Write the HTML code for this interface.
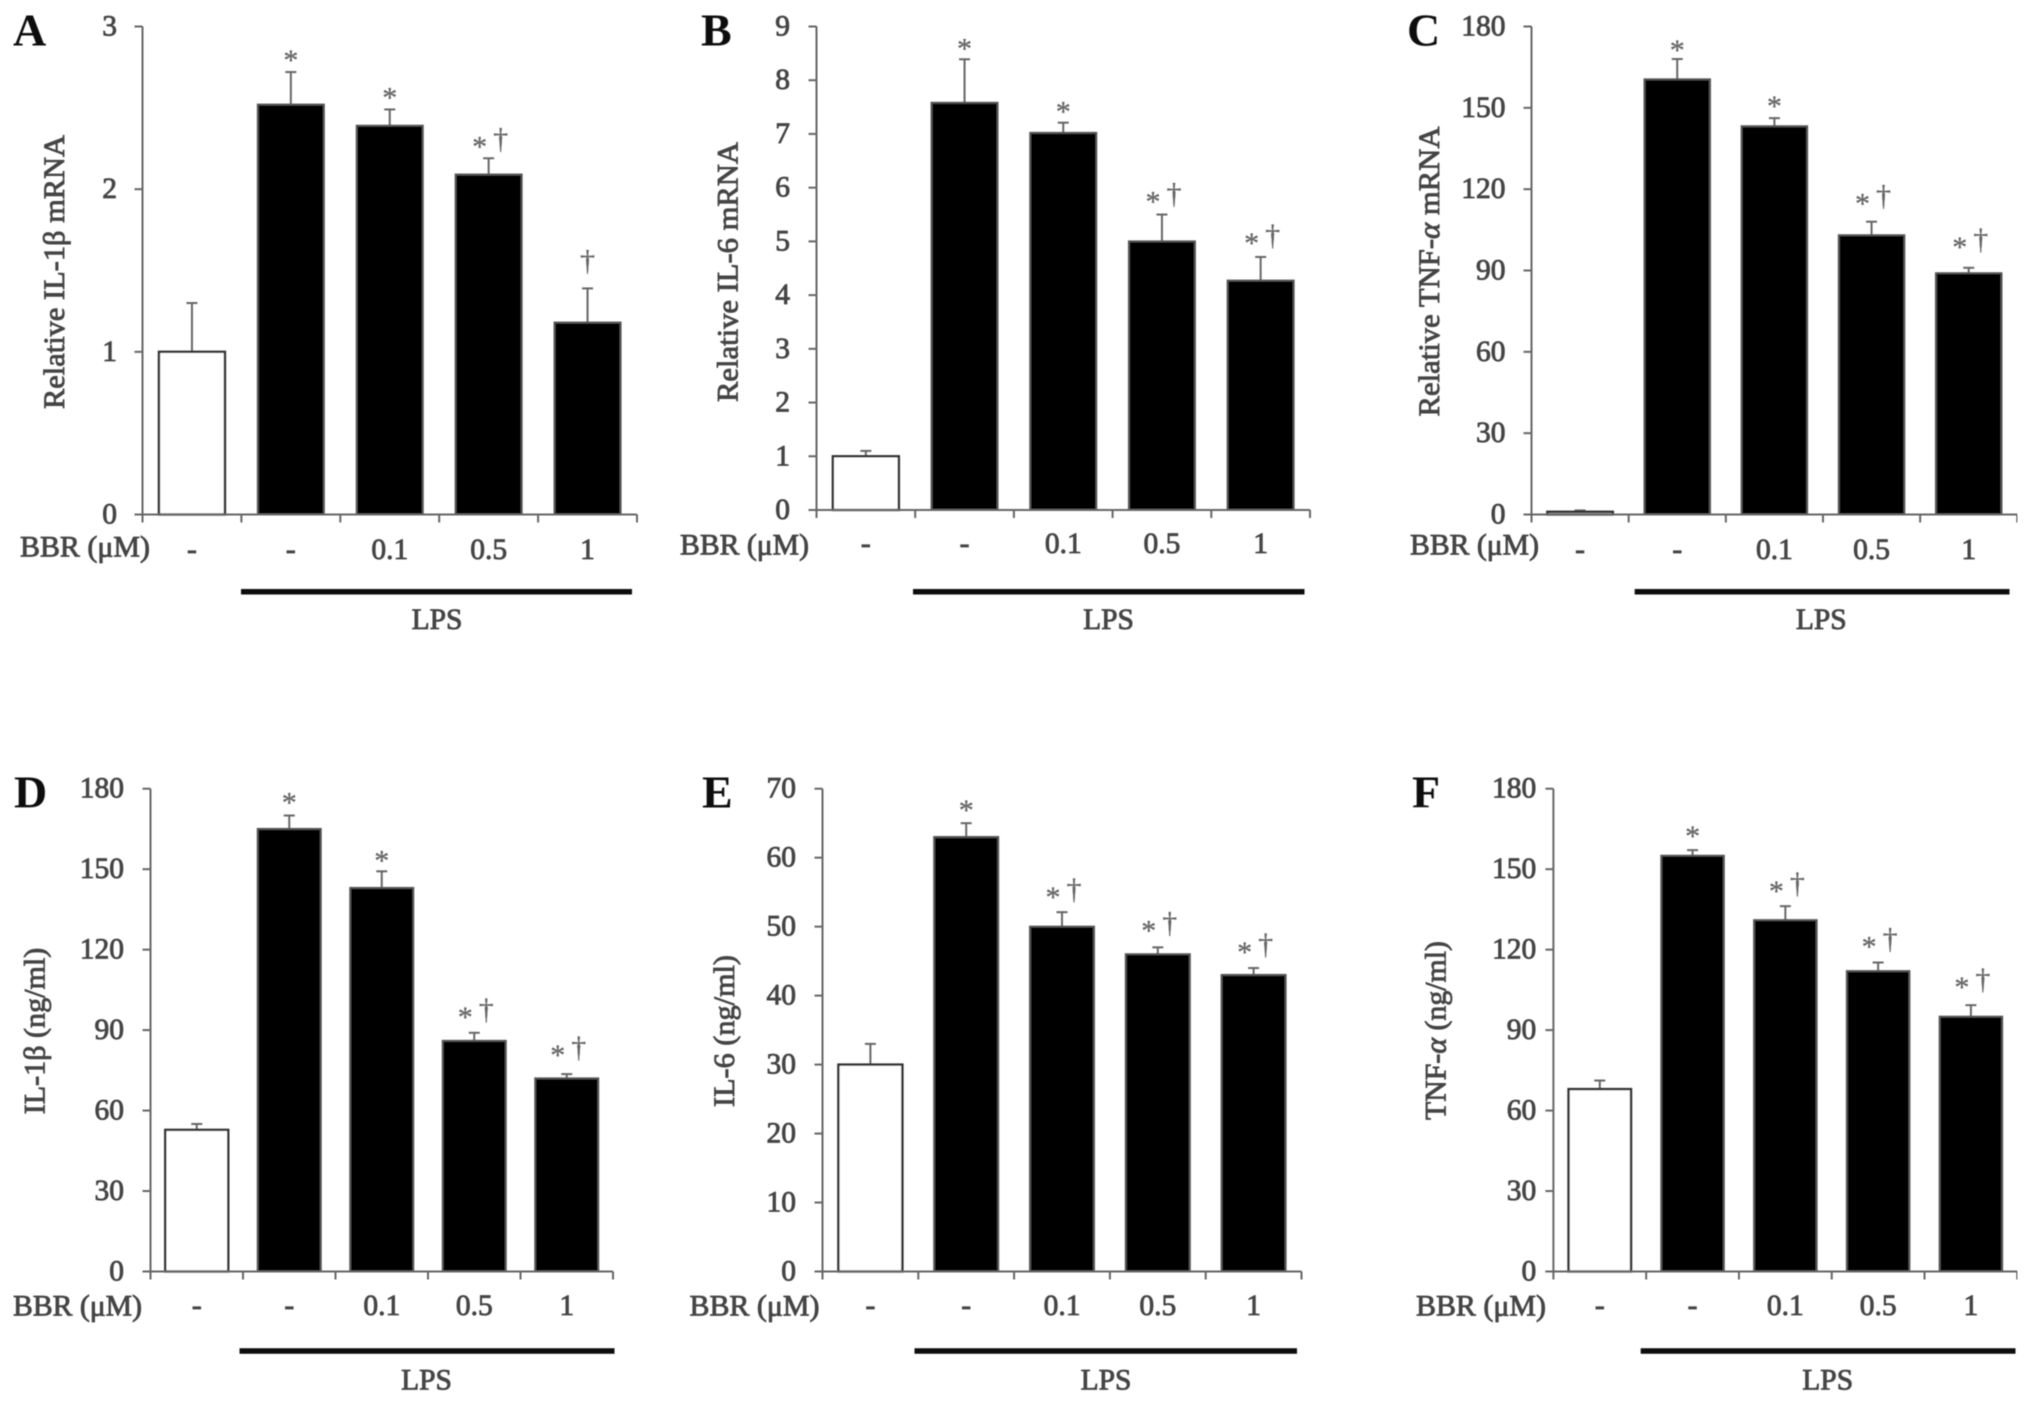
<!DOCTYPE html>
<html lang="en">
<head>
<meta charset="utf-8">
<title>Relative mRNA and cytokine levels by BBR dose</title>
<style>
html,body{margin:0;padding:0;background:#fff;}
svg{display:block;}
text{font-family:"Liberation Serif",serif;font-size:29.5px;fill:#444;stroke:#444;stroke-width:0.85px;font-weight:normal;}
.letter{font-size:46px;fill:#111;stroke:none;font-weight:bold;}
.lps-bar{stroke:#0a0a0a;stroke-width:5.5;}
.sig{font-weight:normal;font-size:30px;fill:#666;stroke:#666;stroke-width:0.3px;}
.axis{stroke:#666;stroke-width:2;fill:none;}
.err{stroke:#666;stroke-width:2;fill:none;}
</style>
</head>
<body>
<svg id="figure" width="2031" height="1403" viewBox="0 0 2031 1403" xmlns="http://www.w3.org/2000/svg">
<defs><filter id="soft" x="0" y="0" width="100%" height="100%"><feGaussianBlur stdDeviation="0.6"/></filter></defs>
<rect width="2031" height="1403" fill="#fff"/>
<g filter="url(#soft)">

<g id="panel-a">
<text class="letter" x="13" y="45.5">A</text>
<text transform="translate(64,272) rotate(-90)" text-anchor="middle" textLength="274" lengthAdjust="spacingAndGlyphs">Relative IL-1β mRNA</text>
<text x="20" y="556.5" textLength="130" lengthAdjust="spacingAndGlyphs">BBR (μM)</text>
<line class="lps-bar" x1="241" x2="632" y1="591.7" y2="591.7"/>
<text x="437" y="629" text-anchor="middle">LPS</text>
</g>

<g id="panel-b">
<text class="letter" x="701" y="45.5">B</text>
<text transform="translate(737.5,272) rotate(-90)" text-anchor="middle" textLength="260" lengthAdjust="spacingAndGlyphs">Relative IL-6 mRNA</text>
<text x="680" y="554.7" textLength="129" lengthAdjust="spacingAndGlyphs">BBR (μM)</text>
<line class="lps-bar" x1="913" x2="1304.5" y1="591.7" y2="591.7"/>
<text x="1108.5" y="629" text-anchor="middle">LPS</text>
</g>

<g id="panel-c">
<text class="letter" x="1407" y="45.5">C</text>
<text transform="translate(1439,271.5) rotate(-90)" text-anchor="middle" textLength="290" lengthAdjust="spacingAndGlyphs">Relative TNF-<tspan font-style="italic">α</tspan> mRNA</text>
<text x="1410" y="554.7" textLength="129" lengthAdjust="spacingAndGlyphs">BBR (μM)</text>
<line class="lps-bar" x1="1634.7" x2="2009.5" y1="591.7" y2="591.7"/>
<text x="1821.3" y="629" text-anchor="middle">LPS</text>
</g>

<g id="panel-d">
<text class="letter" x="14" y="807.5">D</text>
<text transform="translate(44.5,1031) rotate(-90)" text-anchor="middle" textLength="166.5" lengthAdjust="spacingAndGlyphs">IL-1β (ng/ml)</text>
<text x="13" y="1315.5" textLength="129" lengthAdjust="spacingAndGlyphs">BBR (μM)</text>
<line class="lps-bar" x1="239.5" x2="614.5" y1="1351" y2="1351"/>
<text x="426.5" y="1389.5" text-anchor="middle">LPS</text>
</g>

<g id="panel-e">
<text class="letter" x="702" y="807.5">E</text>
<text transform="translate(734,1031) rotate(-90)" text-anchor="middle" textLength="152" lengthAdjust="spacingAndGlyphs">IL-6 (ng/ml)</text>
<text x="689.5" y="1315.5" textLength="130" lengthAdjust="spacingAndGlyphs">BBR (μM)</text>
<line class="lps-bar" x1="914.5" x2="1297" y1="1351" y2="1351"/>
<text x="1106" y="1389.5" text-anchor="middle">LPS</text>
</g>

<g id="panel-f">
<text class="letter" x="1412" y="807.5">F</text>
<text transform="translate(1445.5,1030.5) rotate(-90)" text-anchor="middle" textLength="179" lengthAdjust="spacingAndGlyphs">TNF-<tspan font-style="italic">α</tspan> (ng/ml)</text>
<text x="1416" y="1315.5" textLength="130" lengthAdjust="spacingAndGlyphs">BBR (μM)</text>
<line class="lps-bar" x1="1640.7" x2="2015.5" y1="1351" y2="1351"/>
<text x="1827.7" y="1389.5" text-anchor="middle">LPS</text>
</g>

</g>
</svg>

<script>
const categories = ['-', '-', '0.1', '0.5', '1'];

const ticksA = [0, 1, 2, 3];
const valuesA = [1.0, 2.52, 2.39, 2.09, 1.18];
const errorsA = [0.3, 0.2, 0.1, 0.1, 0.21];
const marksA = ['', '*', '*', '*†', '†'];

const ticksB = [0, 1, 2, 3, 4, 5, 6, 7, 8, 9];
const valuesB = [1.0, 7.58, 7.02, 5.0, 4.27];
const errorsB = [0.1, 0.81, 0.19, 0.5, 0.44];
const marksB = ['', '*', '*', '*†', '*†'];

const ticksC = [0, 30, 60, 90, 120, 150, 180];
const valuesC = [1, 160.5, 143.2, 103, 89];
const errorsC = [0.5, 7.5, 3, 5, 2];
const marksC = ['', '*', '*', '*†', '*†'];

const ticksD = [0, 30, 60, 90, 120, 150, 180];
const valuesD = [52.8, 165, 143, 86, 72];
const errorsD = [2.2, 5, 6.2, 3, 1.6];
const marksD = ['', '*', '*', '*†', '*†'];

const ticksE = [0, 10, 20, 30, 40, 50, 60, 70];
const valuesE = [30, 63, 50, 46, 43];
const errorsE = [3, 2, 2.1, 1, 1];
const marksE = ['', '*', '*†', '*†', '*†'];

const ticksF = [0, 30, 60, 90, 120, 150, 180];
const valuesF = [68, 155, 131, 112, 95];
const errorsF = [3.2, 2.1, 5.2, 3.2, 4.3];
const marksF = ['', '*', '*†', '*†', '*†'];

const panels = [
  {id:'a', ticks:ticksA, values:valuesA, errors:errorsA, marks:marksA, left:142.5, right:637, top:26.5, base:514.5, barWidth:66, labelEnd:117, catBase:559, gaps:[0,16,16,16,24]},
  {id:'b', ticks:ticksB, values:valuesB, errors:errorsB, marks:marksB, left:816.5, right:1310, top:26.5, base:510, barWidth:66, labelEnd:790, catBase:553, gaps:[0,15,15,17,18]},
  {id:'c', ticks:ticksC, values:valuesC, errors:errorsC, marks:marksC, left:1531.5, right:2017.3, top:26.5, base:514.5, barWidth:65.5, labelEnd:1505.5, catBase:559, gaps:[0,13,16,22,25]},
  {id:'d', ticks:ticksD, values:valuesD, errors:errorsD, marks:marksD, left:150.5, right:613, top:788.7, base:1271.5, barWidth:63, labelEnd:124, catBase:1315, gaps:[0,17,15,20,23]},
  {id:'e', ticks:ticksE, values:valuesE, errors:errorsE, marks:marksE, left:822.5, right:1301.5, top:788.7, base:1271.5, barWidth:64, labelEnd:796, catBase:1315, gaps:[0,17,19,21,20]},
  {id:'f', ticks:ticksF, values:valuesF, errors:errorsF, marks:marksF, left:1553.4, right:2017.3, top:788.7, base:1271.5, barWidth:62.5, labelEnd:1536.3, catBase:1315, gaps:[0,18,19,20,22]}
];

const NS = 'http://www.w3.org/2000/svg';

function make(parent, tag, attrs, content) {
  const el = document.createElementNS(NS, tag);
  for (const key in attrs) el.setAttribute(key, attrs[key]);
  if (content !== undefined) el.textContent = content;
  parent.appendChild(el);
  return el;
}

function drawPanel(p) {
  const group = document.getElementById('panel-' + p.id);
  const domainMax = p.ticks[p.ticks.length - 1];
  const yScale = v => p.base - (v / domainMax) * (p.base - p.top);
  const band = (p.right - p.left) / categories.length;
  const xEdge = i => p.left + i * band;
  const xCenter = i => xEdge(i) + band / 2;

  // bars and error bars
  p.values.forEach((value, i) => {
    const cx = xCenter(i);
    const errTop = yScale(value + p.errors[i]);

    const stem = make(group, 'line', {class:'err', x1:cx, x2:cx, y1:errTop, y2:yScale(value)});
    
    
    const cap = make(group, 'line', {class:'err', x1:cx - 5.5, x2:cx + 5.5, y1:errTop, y2:errTop});
    
    

    const bar = make(group, 'rect', {
      x: cx - p.barWidth / 2, y: yScale(value),
      width: p.barWidth, height: p.base - yScale(value),
      fill: i === 0 ? '#fff' : '#000', stroke: i === 0 ? '#333' : '#555', 'stroke-width': i === 0 ? 2.4 : 2
    });
    
    

    const catLabel = make(group, 'text', {x: cx, y: p.catBase, 'text-anchor': 'middle'}, categories[i]);
    
    

    const marks = p.marks[i];
    const gap = p.gaps[i];
    if (marks === '*' || marks === '*†') {
      const star = make(group, 'text', {class:'sig', x: cx - (marks === '*' ? 0 : 9), y: errTop - gap + 14, 'text-anchor': 'middle'}, '*');
      
      
    }
    if (marks === '†' || marks === '*†') {
      const dagger = make(group, 'text', {class:'sig', x: cx + (marks === '†' ? 0 : 12), y: errTop - gap + 6, 'text-anchor': 'middle'}, '†');
      
      
    }
  });

  // axes
  const yAxis = make(group, 'line', {class:'axis', x1:p.left, x2:p.left, y1:p.top, y2:p.base + 8});
  
  
  const xAxis = make(group, 'line', {class:'axis', x1:p.left - 8, x2:p.right, y1:p.base, y2:p.base});
  
  

  p.ticks.forEach(t => {
    const y = yScale(t);
    const tick = make(group, 'line', {class:'axis', x1:p.left - 8, x2:p.left, y1:y, y2:y});
    
    
    const label = make(group, 'text', {x: p.labelEnd, y: y + 9, 'text-anchor': 'end'}, String(t));
    
    
  });

  for (let i = 1; i <= categories.length; i++) {
    const tick = make(group, 'line', {class:'axis', x1:xEdge(i), x2:xEdge(i), y1:p.base, y2:p.base + 8});
    
    
  }
}

panels.forEach(drawPanel);
</script>
</body>
</html>
